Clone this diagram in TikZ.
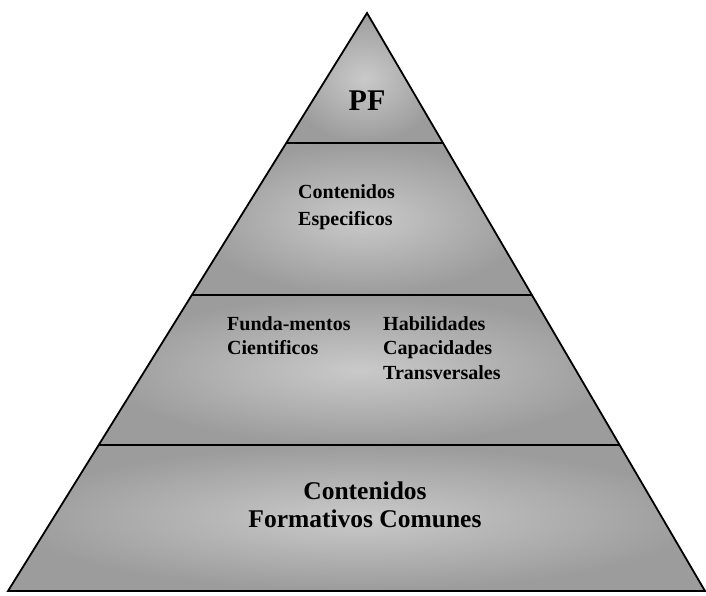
\documentclass[tikz,border=0pt]{standalone}
\usepackage{fontspec}
\setmainfont{Liberation Serif}
\usetikzlibrary{calc}
\begin{document}
\begin{tikzpicture}[x=1pt,y=-1pt,
  edgeline/.style={line width=1.8pt, line join=miter},
  divider/.style={line width=2.2pt},
  band/.style={inner color=gray!42, outer color=gray!78},
  lbl/.style={font=\bfseries, text=black, inner sep=0pt}]
\useasboundingbox[fill=white] (0,0) rectangle (706,596);
\coordinate (A) at (367,13);
\coordinate (BL) at (8,591);
\coordinate (BR) at (705,591);
\coordinate (L1) at ($(A)!0.2249!(BL)$);
\coordinate (R1) at ($(A)!0.2249!(BR)$);
\coordinate (L2) at ($(A)!0.4879!(BL)$);
\coordinate (R2) at ($(A)!0.4879!(BR)$);
\coordinate (L3) at ($(A)!0.7474!(BL)$);
\coordinate (R3) at ($(A)!0.7474!(BR)$);
% bands
\shade[band] (A) -- (R1) -- (L1) -- cycle;
\shade[band] (L1) -- (R1) -- (R2) -- (L2) -- cycle;
\shade[band] (L2) -- (R2) -- (R3) -- (L3) -- cycle;
\shade[band] (L3) -- (R3) -- (BR) -- (BL) -- cycle;
% outline and dividers
\draw[edgeline] (A) -- (BR) -- (BL) -- cycle;
\draw[divider] (L1) -- (R1);
\draw[divider] (L2) -- (R2);
\draw[divider] (L3) -- (R3);
% labels
\node[lbl, font=\bfseries\fontsize{30}{30}\selectfont] (pf) at (367,101) {PF};
\node[lbl, font=\bfseries\fontsize{20}{27}\selectfont, align=left, anchor=west] (esp) at (298,207) {Contenidos\\Especificos};
\node[lbl, font=\bfseries\fontsize{20}{24}\selectfont, align=left, anchor=west] (fund) at (227,336) {Funda-mentos\\Cientificos};
\node[lbl, font=\bfseries\fontsize{20}{24.5}\selectfont, align=left, anchor=west] (hab) at (383,348) {Habilidades\\Capacidades\\Transversales};
\node[lbl, font=\bfseries\fontsize{25.5}{28}\selectfont, align=center] (com) at (365,505) {Contenidos\\Formativos Comunes};
\end{tikzpicture}
\end{document}
